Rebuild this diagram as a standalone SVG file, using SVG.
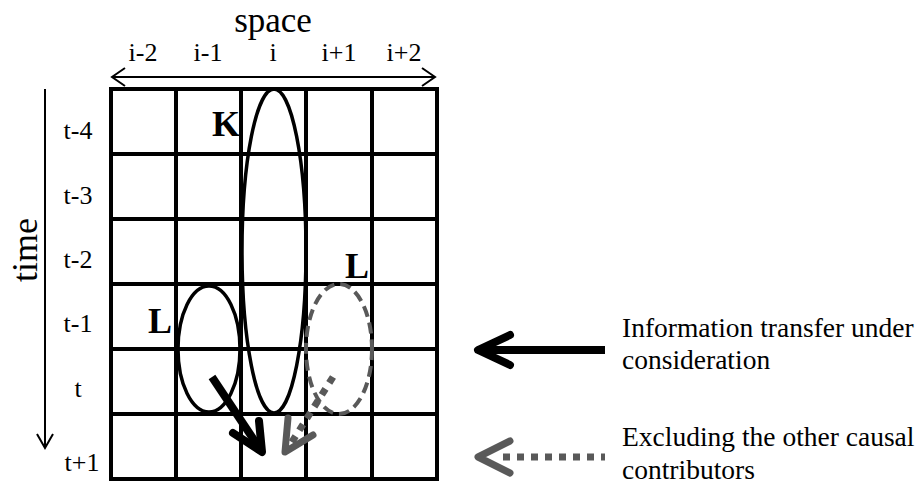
<svg xmlns="http://www.w3.org/2000/svg" width="918" height="490" viewBox="0 0 918 490" font-family="'Liberation Serif', 'Times New Roman', 'DejaVu Serif', serif">
<style>
text{font-family:'Liberation Serif','Times New Roman','DejaVu Serif',serif;fill:#000}
.lbl{font-size:26px}
.lg{font-size:27.5px}
.big{font-size:36px}
.sp{font-size:35px}
.bold{font-size:36px;font-weight:bold}
.grid{stroke:#000;stroke-width:4;fill:none}
.ell{stroke:#000;stroke-width:3.5;fill:none}
.dash{stroke:#595959;stroke-width:4;fill:none;stroke-dasharray:11 6}
.thin{stroke:#000;stroke-width:2;fill:none}
.blk{stroke:#000;stroke-width:8;fill:none;stroke-linecap:round;stroke-linejoin:round}
.blkl{stroke:#000;stroke-width:8;fill:none}
.gry{stroke:#595959;stroke-width:7;fill:none;stroke-linecap:round;stroke-linejoin:round}
.gryd{stroke:#595959;stroke-width:7;fill:none;stroke-dasharray:7 7}
</style>
<g id="axes">
<text class="sp" x="273" y="32" text-anchor="middle">space</text>
<g class="lbl" text-anchor="middle">
<text x="143" y="61">i-2</text>
<text x="208" y="61">i-1</text>
<text x="273" y="61">i</text>
<text x="339" y="61">i+1</text>
<text x="404" y="61">i+2</text>
</g>
<path class="thin" d="M112 77H435M125 68L112 77L125 86M422 68L435 77L422 86"/>
<text class="big" transform="translate(37 250) rotate(-90)" text-anchor="middle">time</text>
<path class="thin" d="M45 89V448M37 434L45 448L53 434"/>
<g class="lbl" text-anchor="middle">
<text x="78" y="139">t-4</text>
<text x="78" y="204">t-3</text>
<text x="78" y="268">t-2</text>
<text x="78" y="332">t-1</text>
<text x="78" y="397">t</text>
<text x="82" y="471">t+1</text>
</g>
</g>
<g id="grid">
<rect class="grid" x="111" y="89" width="326" height="390"/>
<path class="grid" d="M176 89V479M241 89V479M306 89V479M372 89V479M111 154H437M111 219H437M111 284H437M111 349H437M111 414H437"/>
</g>
<g id="node-K">
<ellipse class="ell" cx="274" cy="251" rx="32" ry="162"/>
<text class="bold" x="240" y="136" text-anchor="end">K</text>
</g>
<g id="node-L-left">
<ellipse class="ell" cx="209" cy="349" rx="31" ry="63"/>
<text class="bold" x="172" y="333" text-anchor="end">L</text>
</g>
<g id="node-L-right">
<ellipse class="dash" cx="339" cy="349" rx="33" ry="65"/>
<text class="bold" x="369" y="278" text-anchor="end">L</text>
</g>
<g id="connectors">
<path class="blkl" d="M212 377L258 446"/>
<path class="blk" d="M233 433L262 452L259 421"/>
<path class="gryd" d="M333 377L290 445"/>
<path class="gry" d="M288 418L285 452L313 435"/>
</g>
<g id="legend">
<path class="blkl" d="M482 350H605"/>
<path class="blk" d="M510 335L478 350L510 365"/>
<path class="gryd" d="M503 457H605"/>
<path class="gry" d="M510 441L478 457L510 473"/>
<g class="lg">
<text x="622" y="337">Information transfer under</text>
<text x="622" y="369">consideration</text>
<text x="622" y="446">Excluding the other causal</text>
<text x="622" y="479">contributors</text>
</g>
</g>
</svg>
